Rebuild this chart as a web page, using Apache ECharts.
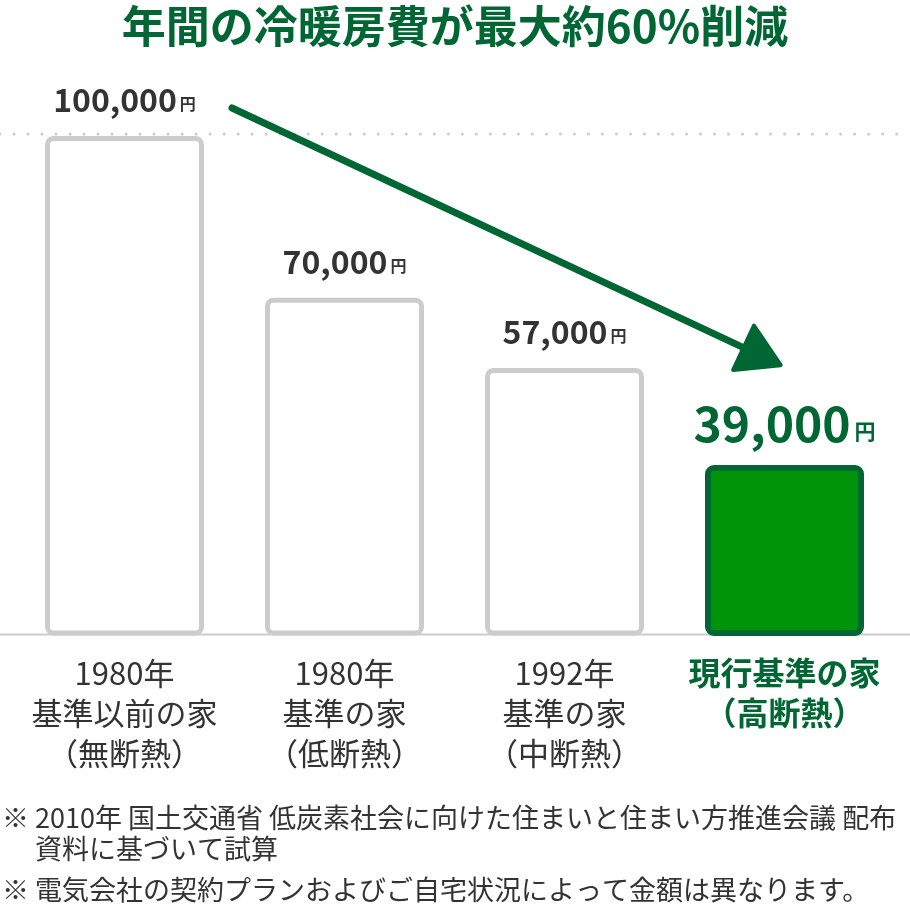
<!DOCTYPE html>
<html>
<head>
<meta charset="utf-8">
<style>
  html, body { margin: 0; padding: 0; background: #ffffff; }
  #chart { width: 910px; height: 910px; }
</style>
<script src="https://cdn.jsdelivr.net/npm/echarts@6/dist/echarts.min.js"></script>
</head>
<body>
<div id="chart"></div>
<script>
// ---- data ----
var titleText = '年間の冷暖房費が最大約60%削減';
var categories = [
  '1980年\n基準以前の家\n（無断熱）',
  '1980年\n基準の家\n（低断熱）',
  '1992年\n基準の家\n（中断熱）',
  '現行基準の家\n（高断熱）'
];
var values = [100000, 70000, 57000, 39000];
var unitText = '円';
var footnotes = [
  '※ 2010年 国土交通省 低炭素社会に向けた住まいと住まい方推進会議 配布',
  '資料に基づいて試算',
  '※ 電気会社の契約プランおよびご自宅状況によって金額は異なります。'
];

// ---- styles ----
var GREEN_DARK = '#006633';
var GREEN = '#009408';
var GREY = '#cccccc';
var TEXT = '#333333';
var FONT = '"Noto Sans CJK JP", "Noto Sans", sans-serif';
var highlightIndex = values.length - 1;
var AXIS_MIN = 7850;

var chart = echarts.init(document.getElementById('chart'), null, { renderer: 'canvas' });

function fmt(v) {
  return String(v).replace(/\B(?=(\d{3})+(?!\d))/g, ',');
}

var xData = categories.map(function (c, i) {
  if (i === highlightIndex) {
    return { value: c, textStyle: { color: GREEN_DARK, fontWeight: 'bold', fontSize: 32 } };
  }
  return { value: c };
});

var barData = values.map(function (v, i) {
  if (i === highlightIndex) {
    return {
      value: v,
      itemStyle: { color: GREEN, borderColor: GREEN_DARK, borderWidth: 6, borderRadius: 6 },
      label: {
        distance: 16.5,
        formatter: function (p) { return '{n|' + fmt(p.value) + '}{u|' + unitText + '}'; },
        rich: {
          n: { fontFamily: FONT, fontSize: 48, fontWeight: 'bold', color: GREEN_DARK, lineHeight: 50 },
          u: { fontFamily: FONT, fontSize: 21, fontWeight: 'bold', color: GREEN_DARK, verticalAlign: 'bottom', padding: [0, 0, 7, 4] }
        }
      }
    };
  }
  return { value: v };
});

var option = {
  backgroundColor: '#ffffff',
  animation: false,
  title: {
    text: titleText,
    left: 'center',
    top: 3,
    padding: 0,
    textStyle: { fontFamily: FONT, fontSize: 44, fontWeight: 'bold', color: GREEN_DARK, lineHeight: 46 }
  },
  grid: { left: 14.5, right: 15.5, top: 136, bottom: 277, containLabel: false },
  xAxis: {
    type: 'category',
    data: xData,
    axisLine: { show: false },
    axisTick: { show: false },
    axisLabel: {
      margin: 20,
      fontFamily: FONT,
      fontSize: 31,
      lineHeight: 40,
      color: TEXT,
      interval: 0
    }
  },
  yAxis: {
    type: 'value',
    min: AXIS_MIN,
    max: 100000,
    show: false,
    splitLine: { show: false }
  },
  series: [{
    type: 'bar',
    data: barData,
    barWidth: 159,
    z: 3,
    itemStyle: { color: '#ffffff', borderColor: GREY, borderWidth: 5, borderRadius: 6 },
    label: {
      show: true,
      position: 'top',
      distance: 18,
      formatter: function (p) { return '{n|' + fmt(p.value) + '}{u|' + unitText + '}'; },
      rich: {
        n: { fontFamily: FONT, fontSize: 32, fontWeight: 'bold', color: TEXT, lineHeight: 36 },
        u: { fontFamily: FONT, fontSize: 16, fontWeight: 'bold', color: TEXT, verticalAlign: 'bottom', padding: [0, 0, 6, 3] }
      }
    }
  }]
};
chart.setOption(option);

// ---- decorations derived from the chart's own scales ----
var W = chart.getWidth();
var c0 = chart.convertToPixel({ gridIndex: 0 }, [0, values[0]]);
var c3 = chart.convertToPixel({ gridIndex: 0 }, [highlightIndex, values[highlightIndex]]);
var base = chart.convertToPixel({ gridIndex: 0 }, [0, AXIS_MIN]);

var dotY = c0[1] - 2;
var baseY = base[1] + 1.5;

var start = [c0[0] + 107.5, c0[1] - 28];
var tip = [c3[0] - 2, c3[1] - 99];
var dx = tip[0] - start[0], dy = tip[1] - start[1];
var len = Math.sqrt(dx * dx + dy * dy);
var ux = dx / len, uy = dy / len;
var headLen = 45, headHalf = 26.5;
var bc = [tip[0] - ux * headLen, tip[1] - uy * headLen];
var nx = -uy, ny = ux;
var inset = 2;
var pTip = [tip[0] - ux * inset, tip[1] - uy * inset];
var pA = [bc[0] + nx * (headHalf - inset) + ux * inset, bc[1] + ny * (headHalf - inset) + uy * inset];
var pB = [bc[0] - nx * (headHalf - inset) + ux * inset, bc[1] - ny * (headHalf - inset) + uy * inset];

chart.setOption({
  graphic: [
    {
      type: 'line', z: 1, silent: true,
      shape: { x1: 0, y1: dotY, x2: W, y2: dotY },
      style: { stroke: GREY, lineWidth: 3, lineDash: [0.01, 14], lineCap: 'round' }
    },
    {
      type: 'line', z: 1, silent: true,
      shape: { x1: 0, y1: baseY, x2: W, y2: baseY },
      style: { stroke: GREY, lineWidth: 2 }
    },
    {
      type: 'line', z: 10, silent: true,
      shape: { x1: start[0], y1: start[1], x2: bc[0] + ux * 6, y2: bc[1] + uy * 6 },
      style: { stroke: GREEN_DARK, lineWidth: 7, lineCap: 'round' }
    },
    {
      type: 'polygon', z: 10, silent: true,
      shape: { points: [pTip, pA, pB] },
      style: { fill: GREEN_DARK, stroke: GREEN_DARK, lineWidth: 4, lineJoin: 'round' }
    },
    {
      type: 'text', z: 10, silent: true, left: 2, top: 815 - 11,
      style: { text: footnotes[0], font: '27px ' + FONT, fill: TEXT }
    },
    {
      type: 'text', z: 10, silent: true, left: 35, top: 846 - 11,
      style: { text: footnotes[1], font: '27px ' + FONT, fill: TEXT }
    },
    {
      type: 'text', z: 10, silent: true, left: 2, top: 887 - 11,
      style: { text: footnotes[2], font: '27px ' + FONT, fill: TEXT }
    }
  ]
});
</script>
</body>
</html>
